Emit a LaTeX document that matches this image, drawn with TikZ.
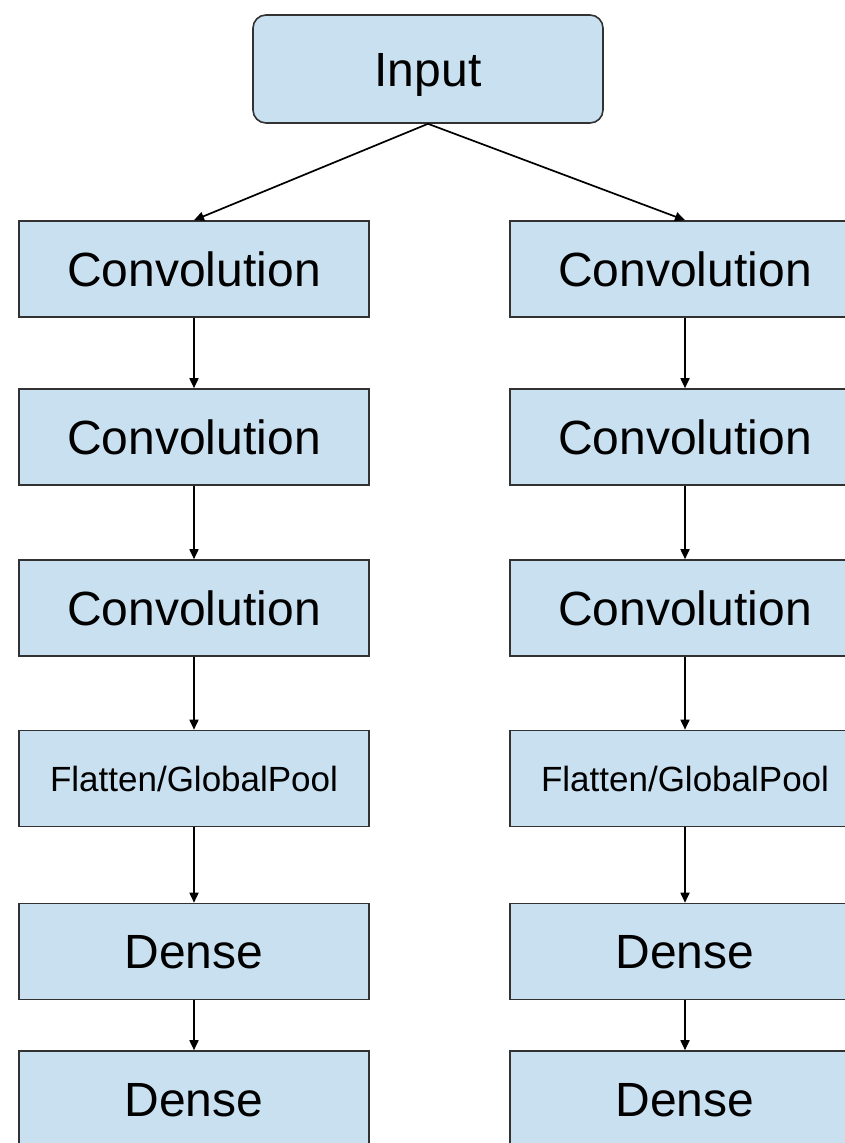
\documentclass[tikz,border=0pt]{standalone}
\usepackage{fontspec}
\setmainfont{Liberation Sans}
\usetikzlibrary{arrows.meta}
\definecolor{boxfill}{RGB}{201,224,240}
\definecolor{boxline}{RGB}{50,50,50}
\tikzset{
  layer/.style={draw=boxline, fill=boxfill, line width=1.6pt, minimum width=350pt, minimum height=96pt, inner sep=0pt, text height=34.4pt, text depth=0pt, font=\fontsize{48}{56}\selectfont},
  small/.style={text height=25pt, text depth=0pt, font=\fontsize{35}{42}\selectfont},
  inbox/.style={layer, rounded corners=13pt, minimum height=108pt},
  conn/.style={line width=1.7pt, draw=black, -{Triangle[length=10pt,width=9pt]}}
}
\begin{document}
\begin{tikzpicture}[x=1pt,y=-1pt]
\useasboundingbox (0,0) rectangle (845,1143);
\begin{scope}
\clip (0,0) rectangle (845,1143);
\node[inbox] (in) at (428,69) {Input};
\node[layer] (l1) at (194,269) {Convolution};
\node[layer] (l2) at (194,437) {Convolution};
\node[layer] (l3) at (194,608) {Convolution};
\node[layer,small] (l4) at (194,778.5) {Flatten/GlobalPool};
\node[layer] (l5) at (194,951.5) {Dense};
\node[layer] (l6) at (194,1099) {Dense};
\node[layer] (r1) at (685,269) {Convolution};
\node[layer] (r2) at (685,437) {Convolution};
\node[layer] (r3) at (685,608) {Convolution};
\node[layer,small] (r4) at (685,778.5) {Flatten/GlobalPool};
\node[layer] (r5) at (685,951.5) {Dense};
\node[layer] (r6) at (685,1099) {Dense};
\draw[conn] (in.south) -- (l1.north);
\draw[conn] (in.south) -- (r1.north);
\foreach \s in {l,r}{
  \draw[conn] (\s1) -- (\s2);
  \draw[conn] (\s2) -- (\s3);
  \draw[conn] (\s3) -- (\s4);
  \draw[conn] (\s4) -- (\s5);
  \draw[conn] (\s5) -- (\s6);
}
\end{scope}
\end{tikzpicture}
\end{document}
